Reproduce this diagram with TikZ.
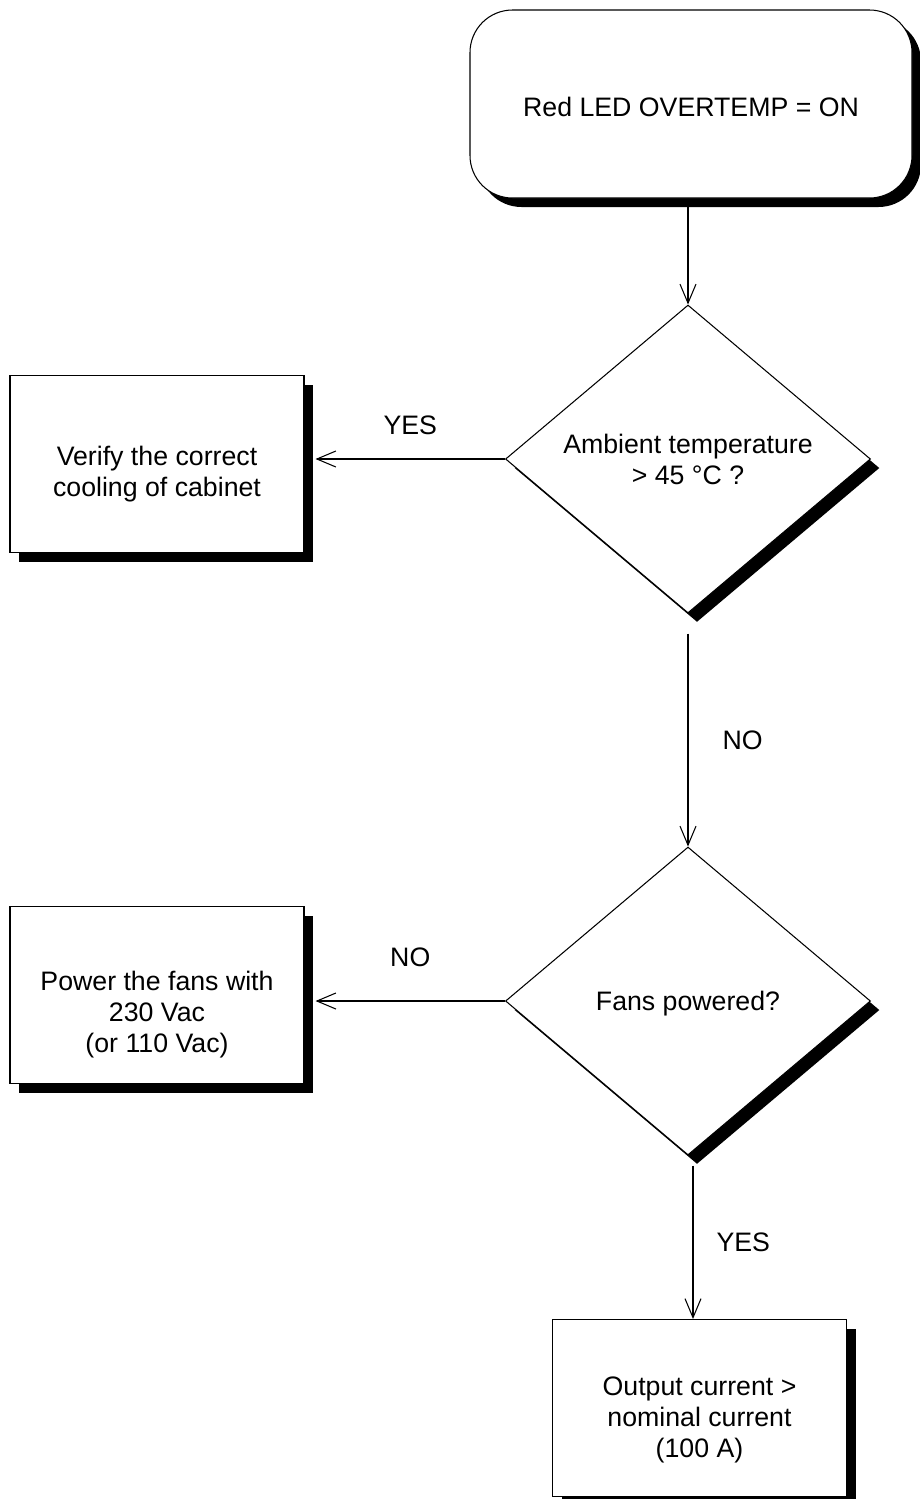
\documentclass[tikz,border=0pt]{standalone}
\usepackage{fontspec}
\setmainfont{Liberation Sans}
\usetikzlibrary{shapes.geometric,arrows.meta,positioning,shadows}

% taller first line, pushes the text block down in its box
\newcommand{\txtdown}[1]{\rule{0pt}{#1}}

\tikzset{
  base/.style={draw, fill=white, line width=0.6pt, align=center, inner sep=0pt,
    font=\fontsize{15.2}{17.6}\selectfont,
    general shadow={fill=black, shadow xshift=0.18cm, shadow yshift=-0.18cm}},
  startbox/.style={base, rectangle, rounded corners=0.85cm, minimum width=8.84cm, minimum height=3.76cm},
  actbox/.style={base, rectangle, minimum width=5.88cm, minimum height=3.54cm},
  ask/.style={base, diamond, aspect=1.19, minimum width=7.3cm, minimum height=6.16cm},
  arr/.style={line width=0.6pt, -{Straight Barb[length=0.38cm, width=0.32cm]}},
  lbl/.style={inner sep=0pt, font=\fontsize{15.2}{18}\selectfont}
}

\begin{document}
\begin{tikzpicture}
\useasboundingbox (0,0) rectangle (18.38,-29.98);

% Start
\node[startbox] (start) at (13.82,-2.08) {\txtdown{14pt}Red LED OVERTEMP = ON};

% Questions
\node[ask] (temp) at (13.76,-9.18) {Ambient temperature\\ > 45 °C ?};
\node[ask] (fans) at (13.76,-20.02) {\txtdown{14pt}Fans powered?};

% Actions
\node[actbox] (cool) at (3.14,-9.28) {\txtdown{22pt}Verify the correct\\ cooling of cabinet};
\node[actbox] (power) at (3.14,-19.9) {\txtdown{33pt}Power the fans with\\ 230 Vac\\ (or 110 Vac)};
\node[actbox] (out) at (13.99,-28.16) {\txtdown{24pt}Output current >\\ nominal current\\ (100 A)};

% Arrows
\draw[arr] (start.south -| temp.north) -- (temp.north);
\coordinate (coolin) at ([xshift=0.22cm]cool.east);
\draw[arr] (temp.west) -- (coolin |- temp.west) node[lbl, midway, above=0.48cm] (yes1) {YES};
\coordinate (tb) at ([yshift=-0.4cm]temp.south);
\draw[arr] (tb) -- (fans.north) node[lbl, midway, right=0.68cm] (no1) {NO};
\coordinate (powin) at ([xshift=0.22cm]power.east);
\draw[arr] (fans.west) -- (powin |- fans.west) node[lbl, midway, above=0.68cm] (no2) {NO};
\coordinate (fb) at ([xshift=0.1cm, yshift=-0.2cm]fans.south);
\draw[arr] (fb) -- (fb |- out.north) node[lbl, midway, right=0.46cm] (yes2) {YES};
\end{tikzpicture}
\end{document}
